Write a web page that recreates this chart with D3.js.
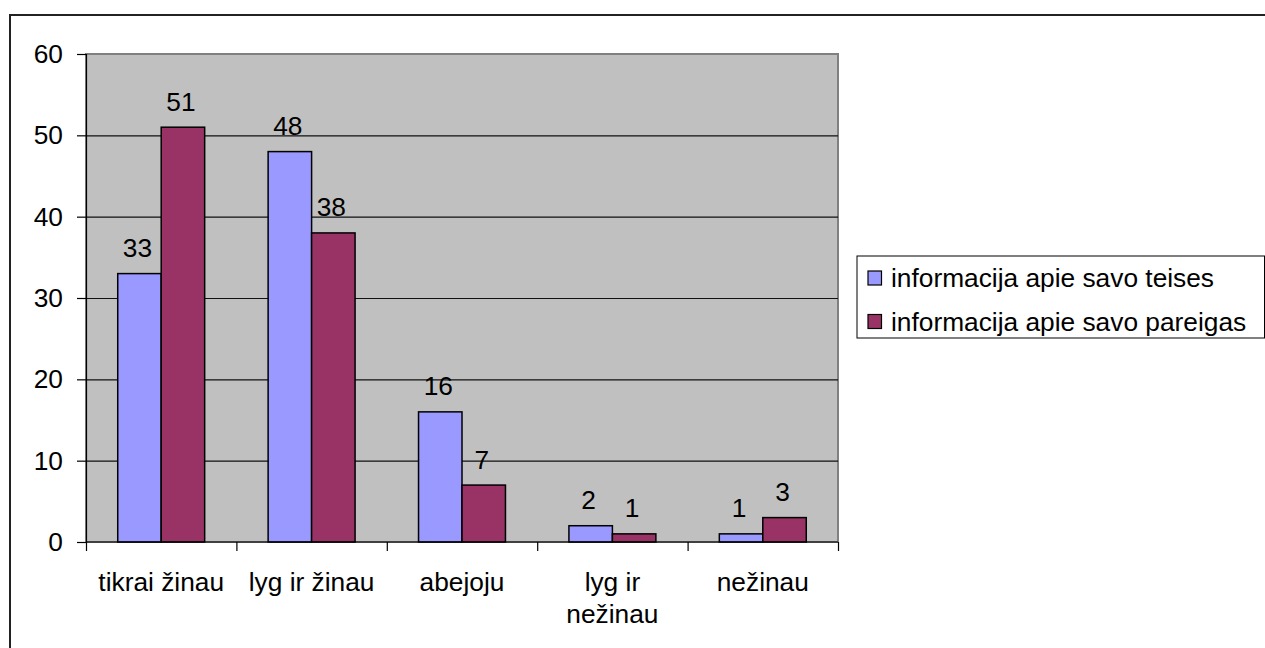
<!DOCTYPE html>
<html>
<head>
<meta charset="utf-8">
<script src="https://cdn.jsdelivr.net/npm/d3@7"></script>
<style>
  html, body { margin: 0; padding: 0; background: #fff; }
  svg { display: block; }
  text { font-family: "Liberation Sans", Arial, sans-serif; fill: #000; }
</style>
</head>
<body>
<svg id="chart" width="1265" height="648"></svg>
<script>
const categories = ["tikrai žinau", "lyg ir žinau", "abejoju", "lyg ir nežinau", "nežinau"];
const seriesNames = ["informacija apie savo teises", "informacija apie savo pareigas"];
const teises = [33, 48, 16, 2, 1];
const pareigas = [51, 38, 7, 1, 3];
const yTicks = [0, 10, 20, 30, 40, 50, 60];
const colors = ["#9999FF", "#993366"];

const svg = d3.select("#chart");
const fontSize = 26.3;

// outer frame
svg.append("rect").attr("x", 10).attr("y", 15).attr("width", 1300).attr("height", 700)
  .attr("fill", "#fff").attr("stroke", "#222").attr("stroke-width", 2);

const plot = { left: 86, right: 838, top: 54, bottom: 542 };

const y = d3.scaleLinear().domain([0, 60]).range([plot.bottom, plot.top]);
const x0 = d3.scaleBand().domain(categories).range([plot.left, plot.right]).paddingInner(0).paddingOuter(0);
const x1 = d3.scaleBand().domain([0, 1]).range([0, x0.bandwidth()]).paddingInner(0).paddingOuter(0.73);

// plot background
svg.append("rect").attr("x", plot.left).attr("y", plot.top)
  .attr("width", plot.right - plot.left).attr("height", plot.bottom - plot.top)
  .attr("fill", "#C0C0C0").attr("stroke", "#808080").attr("stroke-width", 2);

// gridlines
svg.append("g").selectAll("line").data(yTicks.filter(t => t > 0 && t < 60)).join("line")
  .attr("x1", plot.left).attr("x2", plot.right)
  .attr("y1", d => y(d) + 0.5).attr("y2", d => y(d) + 0.5)
  .attr("stroke", "#111").attr("stroke-width", 1.2);

// y axis
const yAxis = d3.axisLeft(y).tickValues(yTicks).tickSize(9).tickPadding(14).tickFormat(d3.format("d"));
const gy = svg.append("g").attr("transform", `translate(${plot.left},0)`).call(yAxis);
gy.select(".domain").attr("stroke", "#000").attr("stroke-width", 1.2);
gy.selectAll(".tick line").attr("stroke", "#000").attr("stroke-width", 1.2);
gy.selectAll(".tick text").attr("font-size", fontSize).attr("font-family", "Liberation Sans, Arial, sans-serif").attr("fill", "#000");

// bars
const data = categories.map((c, i) => ({ c, vals: [teises[i], pareigas[i]] }));
const groups = svg.append("g").selectAll("g").data(data).join("g")
  .attr("transform", d => `translate(${x0(d.c)},0)`);
groups.selectAll("rect").data(d => d.vals.map((v, j) => ({ v, j }))).join("rect")
  .attr("x", d => x1(d.j)).attr("width", x1.bandwidth())
  .attr("y", d => y(d.v)).attr("height", d => y(0) - y(d.v))
  .attr("fill", d => colors[d.j]).attr("stroke", "#000").attr("stroke-width", 1.5);
groups.selectAll("text").data(d => d.vals.map((v, j) => ({ v, j }))).join("text")
  .attr("x", d => x1(d.j) + x1.bandwidth() / 2 - 2)
  .attr("y", d => y(d.v) - 16.5)
  .attr("text-anchor", "middle").attr("font-size", fontSize)
  .text(d => d.v);

// x axis
const gx = svg.append("g").attr("transform", `translate(0,${plot.bottom})`);
gx.append("line").attr("x1", plot.left).attr("x2", plot.right).attr("y1", 0).attr("y2", 0)
  .attr("stroke", "#000").attr("stroke-width", 1.2);
const boundaries = categories.map(c => x0(c)).concat([plot.right]);
gx.selectAll("line.tk").data(boundaries).join("line").attr("class", "tk")
  .attr("x1", d => d + 0.5).attr("x2", d => d + 0.5).attr("y1", 0).attr("y2", 9)
  .attr("stroke", "#000").attr("stroke-width", 1.2);

// category labels with wrapping
function wrapLines(str, maxW) {
  const words = str.split(" ");
  const lines = [];
  let cur = "";
  const tmp = svg.append("text").attr("font-size", fontSize);
  words.forEach(w => {
    const test = cur ? cur + " " + w : w;
    tmp.text(test);
    if (tmp.node().getComputedTextLength() > maxW && cur) {
      lines.push(cur); cur = w;
    } else cur = test;
  });
  lines.push(cur);
  tmp.remove();
  return lines;
}
categories.forEach(c => {
  const lines = wrapLines(c, x0.bandwidth() - 4);
  const t = gx.append("text").attr("text-anchor", "middle").attr("font-size", fontSize)
    .attr("x", x0(c) + x0.bandwidth() / 2).attr("y", 49);
  lines.forEach((l, i) => t.append("tspan").attr("x", x0(c) + x0.bandwidth() / 2)
    .attr("dy", i === 0 ? 0 : 32).text(l));
});

// legend
const lg = svg.append("g");
lg.append("rect").attr("x", 857).attr("y", 256).attr("width", 407.5).attr("height", 82)
  .attr("fill", "#fff").attr("stroke", "#000").attr("stroke-width", 1);
seriesNames.forEach((s, i) => {
  const yy = 271 + i * 43.5;
  lg.append("rect").attr("x", 868).attr("y", yy).attr("width", 13.5).attr("height", 14)
    .attr("fill", colors[i]).attr("stroke", "#000").attr("stroke-width", 1.2);
  lg.append("text").attr("x", 891).attr("y", yy + 16).attr("font-size", fontSize).text(s);
});
</script>
</body>
</html>
